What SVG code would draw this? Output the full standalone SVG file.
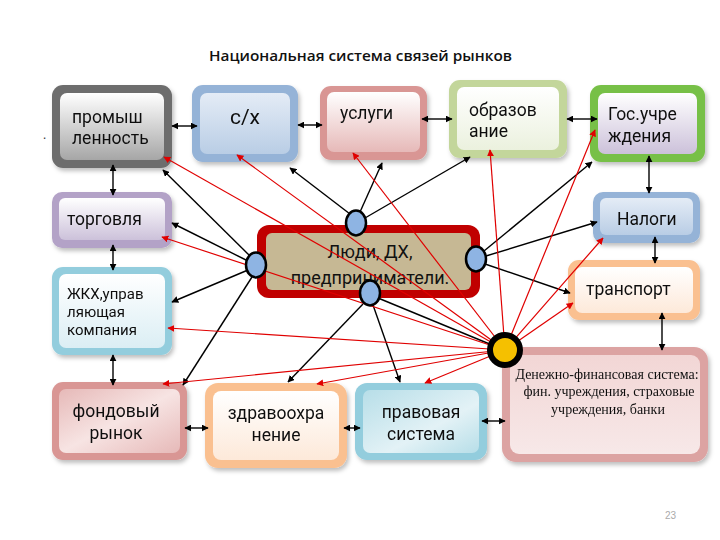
<svg xmlns="http://www.w3.org/2000/svg" width="720" height="540" viewBox="0 0 720 540">
<style>
.t{font-family:Roboto,"Open Sans","DejaVu Sans",sans-serif;font-size:17.5px;fill:#111}
.s{font-family:"Liberation Serif","Times New Roman",serif;font-size:14px;fill:#111;text-anchor:middle}
.m{text-anchor:middle}
.bk{stroke:#000;stroke-width:1.4;fill:none}
.rd{stroke:#e00000;stroke-width:1.2;fill:none}
.ba{marker-end:url(#ab)}
.bb{marker-start:url(#ab);marker-end:url(#ab)}
.ra{marker-end:url(#ar)}
.pt{fill:#8eb4e3;stroke:#000;stroke-width:2.5}
</style>
<defs>
<marker id="ab" viewBox="0 0 10 10" refX="9" refY="5" markerWidth="7" markerHeight="7" markerUnits="userSpaceOnUse" orient="auto-start-reverse"><path d="M0,0L10,5L0,10z" fill="#000"/></marker>
<marker id="ar" viewBox="0 0 10 10" refX="9" refY="5" markerWidth="7" markerHeight="7" markerUnits="userSpaceOnUse" orient="auto-start-reverse"><path d="M0,0L10,5L0,10z" fill="#e00000"/></marker>
<filter id="sh" x="-10%" y="-10%" width="130%" height="130%"><feDropShadow dx="2" dy="3" stdDeviation="2" flood-color="#000" flood-opacity="0.25"/></filter>
<linearGradient id="gGray" x1="0" y1="0" x2="0" y2="1"><stop offset="0" stop-color="#ffffff"/><stop offset="1" stop-color="#a6a6a6"/></linearGradient>
<linearGradient id="gBlue" x1="0" y1="0" x2="0" y2="1"><stop offset="0" stop-color="#e4ecf6"/><stop offset="1" stop-color="#b9cde5"/></linearGradient>
<linearGradient id="gPink" x1="0" y1="0" x2="0" y2="1"><stop offset="0" stop-color="#ffffff"/><stop offset="1" stop-color="#e6b9b8"/></linearGradient>
<linearGradient id="gGreen" x1="0" y1="0" x2="0" y2="1"><stop offset="0" stop-color="#ffffff"/><stop offset="1" stop-color="#ebf1de"/></linearGradient>
<linearGradient id="gLav" x1="0" y1="0" x2="0" y2="1"><stop offset="0" stop-color="#ffffff"/><stop offset="1" stop-color="#ccc1da"/></linearGradient>
<linearGradient id="gCyan" x1="0" y1="0" x2="0" y2="1"><stop offset="0" stop-color="#ffffff"/><stop offset="1" stop-color="#dbeef4"/></linearGradient>
<linearGradient id="gCyan2" x1="0" y1="0" x2="1" y2="1"><stop offset="0" stop-color="#b7dee8"/><stop offset="0.6" stop-color="#e3f2f6"/><stop offset="1" stop-color="#b7dee8"/></linearGradient>
<linearGradient id="gPeach" x1="0" y1="0" x2="0" y2="1"><stop offset="0" stop-color="#ffffff"/><stop offset="1" stop-color="#fde9d9"/></linearGradient>
<linearGradient id="gRose" x1="0" y1="0" x2="1" y2="1"><stop offset="0" stop-color="#e6b9b8"/><stop offset="0.5" stop-color="#f7e4e3"/><stop offset="1" stop-color="#e6b9b8"/></linearGradient>
<linearGradient id="gRose2" x1="0" y1="0" x2="0" y2="1"><stop offset="0" stop-color="#f2d6d5"/><stop offset="1" stop-color="#f7e8e8"/></linearGradient>
</defs>

<rect width="720" height="540" fill="#ffffff"/>
<text x="209" y="61" textLength="303" lengthAdjust="spacingAndGlyphs" style="font-family:'Open Sans','DejaVu Sans',sans-serif;font-size:15px;font-weight:600;fill:#111">Национальная система связей рынков</text>
<text x="43" y="139" style="font-family:'Open Sans',sans-serif;font-size:12px;fill:#333">.</text>

<g id="n-prom" filter="url(#sh)">
<rect x="52" y="85" width="120" height="83" rx="11" fill="#6d6d6d"/>
<rect x="60" y="93" width="104" height="67" rx="7" fill="url(#gGray)"/>
<text class="t" x="72" y="123">промыш</text>
<text class="t" x="72" y="144">ленность</text>
</g>
<g id="n-sx" filter="url(#sh)">
<rect x="192" y="85" width="106" height="77" rx="11" fill="#95b3d7"/>
<rect x="200" y="93" width="90" height="61" rx="7" fill="url(#gBlue)"/>
<text class="t m" x="245" y="124" style="font-size:21px">с/х</text>
</g>
<g id="n-usl" filter="url(#sh)">
<rect x="320" y="86" width="107" height="74" rx="11" fill="#d99694"/>
<rect x="327" y="92" width="93" height="60" rx="7" fill="url(#gPink)"/>
<text class="t" x="340" y="119">услуги</text>
</g>
<g id="n-obr" filter="url(#sh)">
<rect x="449" y="80" width="118" height="78" rx="11" fill="#c3d69b"/>
<rect x="457" y="87" width="102" height="63" rx="7" fill="url(#gGreen)"/>
<text class="t" x="469" y="116">образов</text>
<text class="t" x="469" y="137">ание</text>
</g>
<g id="n-gos" filter="url(#sh)">
<rect x="590" y="85" width="115" height="77" rx="11" fill="#77c046"/>
<rect x="598" y="93" width="99" height="61" rx="7" fill="url(#gLav)"/>
<text class="t" x="608" y="120">Гос.учре</text>
<text class="t" x="608" y="142">ждения</text>
</g>
<g id="n-torg" filter="url(#sh)">
<rect x="52" y="192" width="120" height="56" rx="10" fill="#b3a2c7"/>
<rect x="59" y="198" width="106" height="42" rx="6" fill="url(#gLav)"/>
<text class="t" x="67" y="225">торговля</text>
</g>
<g id="n-nal" filter="url(#sh)">
<rect x="593" y="192" width="107" height="51" rx="10" fill="#95b3d7"/>
<rect x="600" y="198" width="93" height="37" rx="6" fill="url(#gBlue)"/>
<text class="t" x="617" y="225">Налоги</text>
</g>
<g id="n-zhkh" filter="url(#sh)">
<rect x="52" y="267" width="120" height="88" rx="11" fill="#93cddd"/>
<rect x="59" y="274" width="106" height="74" rx="7" fill="url(#gCyan)"/>
<text class="t" x="67" y="299" style="font-size:15px">ЖКХ,управ</text>
<text class="t" x="67" y="317" style="font-size:15px">ляющая</text>
<text class="t" x="67" y="335" style="font-size:15px">компания</text>
</g>
<g id="n-trans" filter="url(#sh)">
<rect x="568" y="260" width="132" height="60" rx="11" fill="#fac090"/>
<rect x="575" y="267" width="118" height="46" rx="7" fill="url(#gPeach)"/>
<text class="t" x="586" y="295">транспорт</text>
</g>
<g id="n-fond" filter="url(#sh)">
<rect x="52" y="382" width="135" height="78" rx="11" fill="#d99694"/>
<rect x="59" y="389" width="121" height="64" rx="7" fill="url(#gRose)"/>
<text class="t m" x="116" y="417">фондовый</text>
<text class="t m" x="116" y="439">рынок</text>
</g>
<g id="n-zdrav" filter="url(#sh)">
<rect x="205" y="383" width="142" height="85" rx="13" fill="#fac090"/>
<rect x="213" y="391" width="126" height="69" rx="8" fill="url(#gPeach)"/>
<text class="t m" x="276" y="419">здравоохра</text>
<text class="t m" x="276" y="441">нение</text>
</g>
<g id="n-prav" filter="url(#sh)">
<rect x="355" y="383" width="132" height="77" rx="12" fill="#93cddd"/>
<rect x="363" y="390" width="116" height="63" rx="7" fill="url(#gCyan2)"/>
<text class="t m" x="421" y="418">правовая</text>
<text class="t m" x="421" y="440">система</text>
</g>
<g id="n-den" filter="url(#sh)">
<rect x="502" y="347" width="206" height="115" rx="14" fill="#dca3a2"/>
<rect x="510" y="355" width="190" height="99" rx="9" fill="url(#gRose2)"/>
<text class="s" x="607" y="379">Денежно-финансовая система:</text>
<text class="s" x="609" y="396">фин. учреждения, страховые</text>
<text class="s" x="608" y="414">учреждения, банки</text>
</g>
<g id="n-center">
<rect x="257" y="225" width="223" height="73" rx="12" fill="#c00000"/>
<rect x="266" y="233" width="205" height="57" rx="6" fill="#c6b894"/>
<text class="t m" x="370" y="258" style="font-size:18px">Люди, ДХ,</text>
<text class="t m" x="370" y="284" style="font-size:18px">предприниматели.</text>
</g>

<g id="connectors">
<line class="bk bb" x1="172" y1="126" x2="197" y2="126"/>
<line class="bk bb" x1="298" y1="125" x2="322" y2="125"/>
<line class="bk bb" x1="422" y1="119" x2="452" y2="119"/>
<line class="bk bb" x1="567" y1="119" x2="597" y2="119"/>
<line class="bk bb" x1="649" y1="156" x2="649" y2="193"/>
<line class="bk bb" x1="655" y1="237" x2="655" y2="263"/>
<line class="bk bb" x1="662" y1="313" x2="662" y2="350"/>
<line class="bk bb" x1="113" y1="165" x2="113" y2="195"/>
<line class="bk bb" x1="113" y1="245" x2="113" y2="270"/>
<line class="bk bb" x1="113" y1="355" x2="113" y2="385"/>
<line class="bk bb" x1="185" y1="428" x2="208" y2="428"/>
<line class="bk bb" x1="344" y1="428" x2="360" y2="428"/>
<line class="bk bb" x1="482" y1="421" x2="505" y2="421"/>
<line class="bk ba" x1="350" y1="214" x2="290" y2="168"/>
<line class="bk ba" x1="360" y1="212" x2="382" y2="163"/>
<line class="bk ba" x1="365" y1="218" x2="470" y2="157"/>
<line class="bk ba" x1="250" y1="256" x2="163" y2="170"/>
<line class="bk ba" x1="248" y1="261" x2="172" y2="223"/>
<line class="bk ba" x1="248" y1="270" x2="172" y2="302"/>
<line class="bk ba" x1="252" y1="277" x2="183" y2="385"/>
<line class="bk ba" x1="484" y1="251" x2="592" y2="162"/>
<line class="bk ba" x1="486" y1="256" x2="597" y2="222"/>
<line class="bk ba" x1="485" y1="264" x2="570" y2="293"/>
<line class="bk ba" x1="363" y1="304" x2="288" y2="382"/>
<line class="bk ba" x1="373" y1="305" x2="400" y2="382"/>
<line class="bk" x1="378" y1="298" x2="492" y2="345"/>
<line class="rd ra" x1="505" y1="350" x2="164" y2="157"/>
<line class="rd ra" x1="505" y1="350" x2="237" y2="155"/>
<line class="rd ra" x1="505" y1="350" x2="353" y2="153"/>
<line class="rd ra" x1="505" y1="350" x2="490" y2="150"/>
<line class="rd ra" x1="505" y1="350" x2="595" y2="130"/>
<line class="rd ra" x1="505" y1="350" x2="162" y2="237"/>
<line class="rd ra" x1="505" y1="350" x2="168" y2="328"/>
<line class="rd ra" x1="505" y1="350" x2="163" y2="384"/>
<line class="rd ra" x1="505" y1="350" x2="317" y2="384"/>
<line class="rd ra" x1="505" y1="350" x2="425" y2="383"/>
<line class="rd ra" x1="505" y1="350" x2="603" y2="238"/>
<line class="rd ra" x1="505" y1="350" x2="573" y2="303"/>
</g>

<g id="p-top"><ellipse class="pt" cx="356" cy="223" rx="10" ry="12.5"/></g>
<g id="p-left"><ellipse class="pt" cx="256" cy="265" rx="10" ry="12.5"/></g>
<g id="p-right"><ellipse class="pt" cx="476" cy="259" rx="10" ry="12.5"/></g>
<g id="p-bottom"><ellipse class="pt" cx="370" cy="293" rx="10" ry="12.5"/></g>
<g id="hub"><circle cx="505" cy="350" r="15" fill="#f5c000" stroke="#000" stroke-width="6"/></g>

<text x="665" y="519" style="font-family:'Liberation Sans',sans-serif;font-size:10px;fill:#aaa">23</text>
</svg>
